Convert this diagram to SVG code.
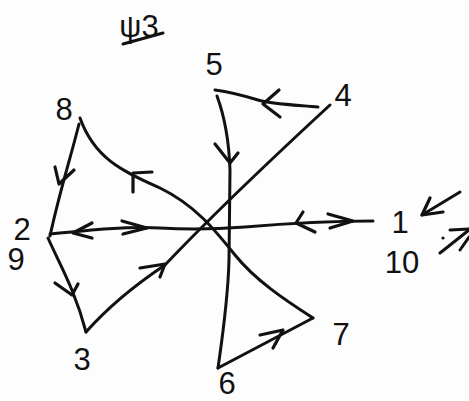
<svg xmlns="http://www.w3.org/2000/svg" width="469" height="401" viewBox="0 0 469 401">
<style>
.lbl{font-family:"Liberation Sans","DejaVu Sans",sans-serif;font-size:31px;fill:#111;text-anchor:middle}
.e{fill:none;stroke:#111;stroke-width:3;stroke-linecap:round;stroke-linejoin:round}
.h{fill:none;stroke:#111;stroke-width:3.2;stroke-linecap:round;stroke-linejoin:round}
</style>
<rect width="469" height="401" fill="#fdfdfd"/>
<g id="title">
<text class="lbl" x="139" y="37" font-size="30">ψ3</text>
<path class="e" d="M123,44 L163,33"/>
</g>
<g id="n1"><text class="lbl" x="400" y="233" font-size="28">1</text></g>
<g id="n2"><text class="lbl" x="22" y="240">2</text></g>
<g id="n9"><text class="lbl" x="16" y="270">9</text></g>
<g id="n3"><text class="lbl" x="82" y="370">3</text></g>
<g id="n4"><text class="lbl" x="343" y="106">4</text></g>
<g id="n5"><text class="lbl" x="214" y="75">5</text></g>
<g id="n6"><text class="lbl" x="227" y="394" font-size="28">6</text></g>
<g id="n7"><text class="lbl" x="341" y="345">7</text></g>
<g id="n8"><text class="lbl" x="64" y="120">8</text></g>
<g id="n10"><text class="lbl" x="402" y="273" font-size="24">10</text></g>
<g id="connectors">
<path class="e" d="M318,107 C295,105 270,104 258,100 C245,96 230,92 215,90"/>
<polyline class="h" points="279,90 263,104 280,117"/>
<path class="e" d="M217,96 C224,115 229,140 230,170 L229,260 C228,300 222,340 218,368"/>
<polyline class="h" points="215,144 230,163 238,153"/>
<path class="e" d="M218,368 L313,318"/>
<polyline class="h" points="260,335 283,330 273,348"/>
<path class="e" d="M313,318 C285,300 255,280 235,255 C215,230 195,205 160,188 C125,172 95,160 80,118"/>
<polyline class="h" points="152,172 133,173 133,192"/>
<path class="e" d="M79,124 C70,160 60,190 50,236"/>
<polyline class="h" points="55,167 59,184 74,170"/>
<path class="e" d="M48,238 C60,265 75,290 86,332"/>
<polyline class="h" points="55,283 72,295 78,284"/>
<path class="e" d="M86,332 C110,305 135,285 165,265 C200,228 265,165 330,105"/>
<polyline class="h" points="140,268 165,264 160,277"/>
<path class="e" d="M50,234 C90,230 130,226 160,228 C190,230 220,229 245,227 C280,224 320,221 373,221"/>
<polyline class="h" points="92,223 73,233 92,238"/>
<polyline class="h" points="122,221 147,228 123,234"/>
<polyline class="h" points="303,212 296,223 315,232"/>
<polyline class="h" points="328,214 353,221 330,228"/>
<path class="e" d="M460,192 L422,215"/>
<polyline class="h" points="430,198 422,215 443,212"/>
<path class="e" d="M440,253 L469,230"/>
<path class="e" d="M450,230 L469,229 M460,250 L469,237"/>
<circle cx="443" cy="238" r="1.6" fill="#111"/>
</g>
</svg>
